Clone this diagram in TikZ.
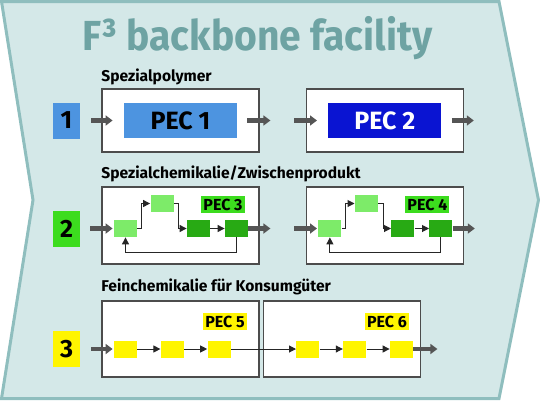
\documentclass[tikz,border=0pt]{standalone}
\usepackage{fontspec}
\setsansfont{Fira Sans}
\newfontfamily\titlefont[FakeStretch=0.93]{Fira Sans}
\usepackage{tikz}
\usetikzlibrary{arrows.meta,positioning,calc}

\definecolor{backfill}{RGB}{212,232,232}
\definecolor{backline}{RGB}{143,190,190}
\definecolor{titlecol}{RGB}{110,163,163}
\definecolor{pecblue}{RGB}{77,148,224}
\definecolor{pecdarkblue}{RGB}{10,20,210}
\definecolor{pecgreen}{RGB}{60,220,30}
\definecolor{lightgreen}{RGB}{125,235,105}
\definecolor{darkgreen}{RGB}{40,170,20}
\definecolor{pecyellow}{RGB}{255,245,0}
\definecolor{arrowgray}{RGB}{85,85,85}

\begin{document}
\begin{tikzpicture}[
    x=0.5pt, y=-0.5pt,
    font=\sffamily\bfseries,
    unit/.style={rectangle, draw=black!70, line width=0.7pt, fill=white, minimum width=78.5pt, inner sep=0pt},
    numbox/.style={rectangle, minimum width=13.5pt, minimum height=18pt, inner sep=0pt, font=\sffamily\bfseries\fontsize{12.5}{14}\selectfont},
    pecbox/.style={rectangle, minimum width=56.5pt, minimum height=17.5pt, inner sep=0pt, font=\sffamily\bfseries\fontsize{12.5}{14}\selectfont},
    stage/.style={rectangle, minimum width=11.5pt, minimum height=8.5pt, inner sep=0pt},
    peclabel/.style={rectangle, minimum width=22pt, minimum height=8.5pt, inner sep=0pt, font=\sffamily\bfseries\fontsize{8}{9}\selectfont},
    rowlabel/.style={anchor=base west, inner sep=0pt, font=\sffamily\bfseries\fontsize{7.8}{9}\selectfont},
    bigarrow/.style={-{Triangle[length=3.5pt,width=5pt]}, line width=2.2pt, draw=arrowgray},
    flow/.style={-{Triangle[length=3.5pt,width=3.5pt]}, line width=0.5pt, draw=black!85}
]
    \useasboundingbox (0,0) rectangle (540,402);

    % Backbone chevron
    \draw[fill=backfill, draw=backline, line width=1.5pt] (1.5,1.5) -- (499,1.5) -- (538.5,200) -- (499,398.5) -- (1.5,398.5) -- (33,200) -- cycle;
    \node[text=titlecol, font=\titlefont\bfseries\fontsize{21}{24}\selectfont, anchor=base, inner sep=0pt] (title) at (257.5,50) {F³ backbone facility};

    % Row 1
    \node[rowlabel] (lbl1) at (101,81) {Spezialpolymer};
    \node[unit, minimum height=31.5pt] (box1) at (180.5,120.5) {};
    \node[unit, minimum height=31.5pt, right=23pt of box1] (box2) {};
    \node[numbox, fill=pecblue] (num1) at (66.5,120.5) {1};
    \node[pecbox, fill=pecblue] (pec1) at (box1.center) {PEC 1};
    \node[pecbox, fill=pecdarkblue, text=white] (pec2) at (box2.center) {PEC 2};
    \coordinate[right=16.5pt of pec1.east] (out1);
    \coordinate[left=17pt of pec2.west] (in2);
    \coordinate[right=16pt of pec2.east] (out2);
    \draw[bigarrow, shorten <=5.5pt, shorten >=5.5pt] (num1) -- (pec1);
    \draw[bigarrow, shorten <=5pt] (pec1) -- (out1);
    \draw[bigarrow, shorten >=5.5pt] (in2) -- (pec2);
    \draw[bigarrow, shorten <=5pt] (pec2) -- (out2);

    % Row 2
    \node[rowlabel] (lbl2) at (101,178) {Spezialchemikalie/Zwischenprodukt};
    \node[unit, minimum height=38.5pt] (box3) at (180.5,225.5) {};
    \node[unit, minimum height=38.5pt, right=23pt of box3] (box4) {};
    \node[numbox, fill=pecgreen] (num2) at (66.5,228.5) {2};
    \foreach \n in {3,4} {
        \node[stage, fill=lightgreen] (a\n) at ($(box\n.center)+(-55,3)$) {};
        \node[stage, fill=lightgreen] (b\n) at ($(box\n.center)+(-18.5,-22)$) {};
        \node[stage, fill=darkgreen] (c\n) at ($(box\n.center)+(18,3)$) {};
        \node[stage, fill=darkgreen] (d\n) at ($(box\n.center)+(56,3)$) {};
        \node[peclabel, fill=pecgreen] (p\n) at ($(box\n.center)+(42.5,-21)$) {PEC \n};
        \draw[flow] (a\n.east) -- ++(4,0) |- (b\n.west);
        \draw[flow] (b\n.east) -- ++(5,0) |- (c\n.west);
        \draw[flow] (c\n) -- (d\n);
        \draw[flow] (d\n.south) -- ++(0,15.5) -| (a\n.south);
    }
    \coordinate[right=11pt of d3.east] (out3);
    \coordinate[left=12pt of a4.west] (in4);
    \coordinate[right=11pt of d4.east] (out4);
    \draw[bigarrow, shorten <=5pt, shorten >=0.5pt] (num2) -- (a3);
    \draw[bigarrow] (d3) -- (out3);
    \draw[bigarrow, shorten >=0.5pt] (in4) -- (a4);
    \draw[bigarrow] (d4) -- (out4);

    % Row 3
    \node[rowlabel] (lbl3) at (101,291) {Feinchemikalie für Konsumgüter};
    \node[unit, minimum height=38pt] (box5) at (180.5,339) {};
    \node[unit, minimum height=38pt, right=1.5pt of box5] (box6) {};
    \node[numbox, fill=pecyellow] (num3) at (66.5,349) {3};
    \node[peclabel, fill=pecyellow] (p5) at ($(box5.center)+(44.5,-17.5)$) {PEC 5};
    \node[peclabel, fill=pecyellow] (p6) at ($(box6.center)+(45,-17.5)$) {PEC 6};
    \node[stage, fill=pecyellow] (s1) at (125.5,349) {};
    \node[stage, fill=pecyellow, right=11.5pt of s1] (s2) {};
    \node[stage, fill=pecyellow, right=11.5pt of s2] (s3) {};
    \node[stage, fill=pecyellow, right=32.5pt of s3] (s4) {};
    \node[stage, fill=pecyellow, right=11.5pt of s4] (s5) {};
    \node[stage, fill=pecyellow, right=11.5pt of s5] (s6) {};
    \foreach \i [count=\j from 2] in {1,...,5}
        \draw[flow] (s\i) -- (s\j);
    \coordinate[right=12pt of s6.east] (out6);
    \draw[bigarrow, shorten <=5.5pt, shorten >=0.5pt] (num3) -- (s1);
    \draw[bigarrow] (s6) -- (out6);
\end{tikzpicture}
\end{document}
